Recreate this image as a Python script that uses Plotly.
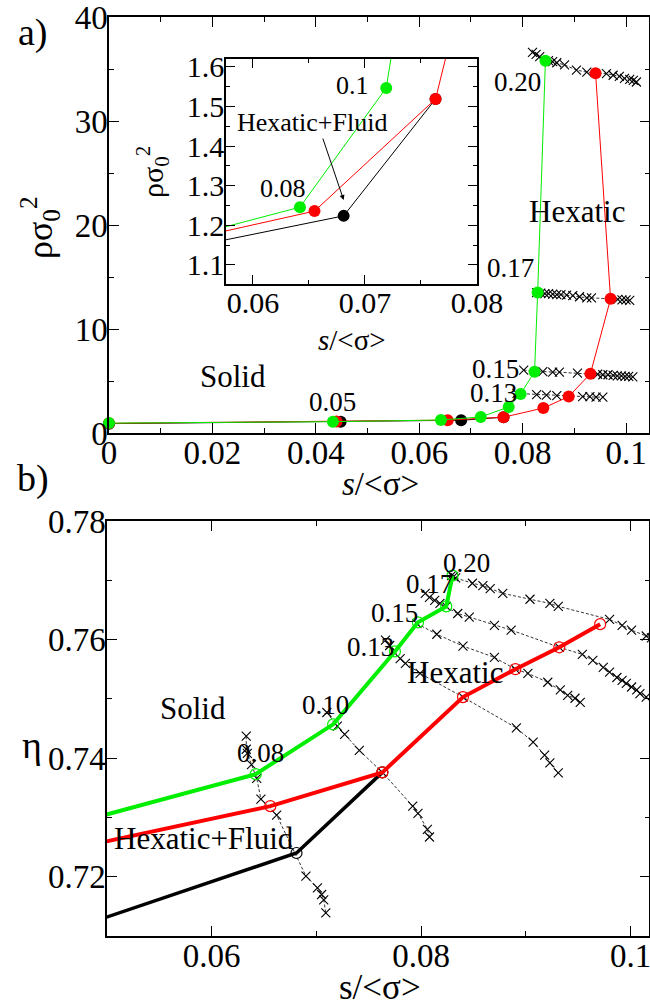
import plotly.graph_objects as go

FONT = "Liberation Serif, Times New Roman, serif"
GREEN = "#00ee00"
RED = "#ff0000"
BLACK = "#000000"

# ---------------- panel a: density vs polydispersity ----------------
green_a_x = [0.0, 0.0433, 0.0642, 0.0719, 0.0773, 0.0796, 0.0823, 0.0829, 0.0844]
green_a_y = [0.95, 1.09, 1.246, 1.547, 2.5, 3.75, 5.9, 13.5, 35.8]
red_a_x = [0.0, 0.0440, 0.0655, 0.0763, 0.0840, 0.0889, 0.0931, 0.0970, 0.0941]
red_a_y = [0.93, 1.10, 1.236, 1.519, 2.4, 3.5, 5.7, 12.9, 34.6]
black_a_x = [0.0, 0.0448, 0.0681, 0.0763]
black_a_y = [0.90, 1.09, 1.224, 1.519]

# isobars (x markers, dashed)
p20a_x = [0.0819, 0.0826, 0.0833, 0.0850, 0.0858, 0.0866, 0.0881, 0.0904, 0.0924,
          0.0962, 0.0975, 0.0987, 0.0997, 0.1007, 0.1014, 0.1020]
p20a_y = [36.6, 36.4, 36.2, 35.8, 35.7, 35.6, 35.4, 34.9, 34.7,
          34.55, 34.4, 34.3, 34.1, 34.0, 33.9, 33.75]
p17a_x = [0.0827, 0.0835, 0.0843, 0.0850, 0.0858, 0.0866, 0.0874, 0.0885, 0.0897,
          0.0910, 0.0924, 0.0933, 0.0984, 0.0992, 0.1000, 0.1007]
p17a_y = [13.5, 13.45, 13.4, 13.4, 13.35, 13.3, 13.3, 13.25, 13.2,
          13.1, 13.0, 13.0, 12.85, 12.8, 12.8, 12.75]
p15a_x = [0.0802, 0.0839, 0.0858, 0.0871, 0.0906, 0.0945, 0.0955, 0.0965, 0.0975,
          0.0983, 0.0991, 0.0998, 0.1005, 0.1013]
p15a_y = [6.05, 5.9, 5.85, 5.85, 5.75, 5.65, 5.6, 5.6, 5.55,
          5.5, 5.5, 5.45, 5.45, 5.4]
p13a_x = [0.0789, 0.0827, 0.0846, 0.0866, 0.0916, 0.0930, 0.0942, 0.0955]
p13a_y = [3.8, 3.7, 3.65, 3.6, 3.5, 3.5, 3.45, 3.45]

# ---------------- panel b: packing fraction vs polydispersity ----------------
green_b_x = [0.0433, 0.0642, 0.0716, 0.0775, 0.0797, 0.0824, 0.0830]
green_b_y = [0.7273, 0.7373, 0.7457, 0.7580, 0.7629, 0.7656, 0.7708]
red_b_x = [0.0440, 0.0656, 0.0763, 0.0840, 0.0890, 0.0932, 0.0971]
red_b_y = [0.7237, 0.7319, 0.7376, 0.7503, 0.7550, 0.7587, 0.7626]
black_b_x = [0.0448, 0.0681, 0.0763]
black_b_y = [0.7101, 0.7240, 0.7376]

p08b_x = [0.0633, 0.0633, 0.0634, 0.0638, 0.0643, 0.0647, 0.0662, 0.0690, 0.0701,
          0.0705, 0.0707, 0.0709]
p08b_y = [0.7437, 0.7415, 0.7408, 0.7389, 0.7366, 0.7331, 0.7304, 0.7201, 0.7181,
          0.7170, 0.7161, 0.7139]
p10b_x = [0.0710, 0.0720, 0.0727, 0.0741, 0.0763, 0.0792, 0.0797, 0.0806, 0.0808]
p10b_y = [0.7477, 0.7454, 0.7440, 0.7413, 0.7376, 0.7319, 0.7307, 0.7280, 0.7267]
p13b_x = [0.0766, 0.0770, 0.0780, 0.0785, 0.0799, 0.0840, 0.0891, 0.0907, 0.0918,
          0.0923, 0.0931]
p13b_y = [0.7599, 0.7590, 0.7568, 0.7560, 0.7543, 0.7503, 0.7451, 0.7427, 0.7405,
          0.7392, 0.7375]
p15b_x = [0.0796, 0.0815, 0.0840, 0.0870, 0.0890, 0.0902, 0.0921, 0.0933, 0.0940,
          0.0947, 0.0952]
p15b_y = [0.7627, 0.7609, 0.7589, 0.7570, 0.7550, 0.7543, 0.7528, 0.7515, 0.7506,
          0.7501, 0.7494]
p17b_x = [0.0804, 0.0808, 0.0813, 0.0818, 0.0824, 0.0835, 0.0846, 0.0870, 0.0886,
          0.0932, 0.0954, 0.0964, 0.0974, 0.0980, 0.0987, 0.0992, 0.0996, 0.1001,
          0.1006, 0.1009, 0.1015]
p17b_y = [0.7678, 0.7671, 0.7666, 0.7661, 0.7656, 0.7644, 0.7638, 0.7624, 0.7616,
          0.7587, 0.7575, 0.7565, 0.7553, 0.7545, 0.7536, 0.7531, 0.7526, 0.7520,
          0.7515, 0.7509, 0.7503]
p20b_x = [0.0829, 0.0831, 0.0833, 0.0849, 0.0859, 0.0866, 0.0878, 0.0904, 0.0923,
          0.0931, 0.0980, 0.0992, 0.1001, 0.1015, 0.1020]
p20b_y = [0.7708, 0.7706, 0.7704, 0.7695, 0.7691, 0.7686, 0.7678, 0.7668, 0.7661,
          0.7656, 0.7634, 0.7624, 0.7616, 0.7606, 0.7603]

# tick labels
xa_ticks = [0, 0.02, 0.04, 0.06, 0.08, 0.1]
xa_text = ["0", "0.02", "0.04", "0.06", "0.08", "0.1"]
ya_ticks = [0, 10, 20, 30, 40]
ya_text = ["0", "10", "20", "30", "40"]
xi_ticks = [0.06, 0.07, 0.08]
xi_text = ["0.06", "0.07", "0.08"]
yi_ticks = [1.1, 1.2, 1.3, 1.4, 1.5, 1.6]
yi_text = ["1.1", "1.2", "1.3", "1.4", "1.5", "1.6"]
xb_ticks = [0.06, 0.08, 0.1]
xb_text = ["0.06", "0.08", "0.1"]
yb_ticks = [0.72, 0.74, 0.76, 0.78]
yb_text = ["0.72", "0.74", "0.76", "0.78"]

fig = go.Figure()


def isobar(x, y, xa, ya):
    fig.add_trace(go.Scatter(
        x=x, y=y, xaxis=xa, yaxis=ya, mode="lines+markers",
        line=dict(color=BLACK, width=0.8, dash="3px,2px"),
        marker=dict(symbol="x-thin-open", size=9, line=dict(color=BLACK, width=1.1)),
        showlegend=False, hoverinfo="skip"))


# panel a
for px, py in [(p20a_x, p20a_y), (p17a_x, p17a_y), (p15a_x, p15a_y), (p13a_x, p13a_y)]:
    isobar(px, py, "x", "y")

for (xs, ys, c) in [(black_a_x, black_a_y, BLACK), (red_a_x, red_a_y, RED),
                    (green_a_x, green_a_y, GREEN)]:
    for xa, ya in [("x", "y"), ("x2", "y2")]:
        fig.add_trace(go.Scatter(
            x=xs, y=ys, xaxis=xa, yaxis=ya, mode="lines+markers",
            line=dict(color=c, width=1),
            marker=dict(symbol="circle", size=12, color=c),
            cliponaxis=(xa == "x2"), showlegend=False))

# panel b
for px, py in [(p08b_x, p08b_y), (p10b_x, p10b_y), (p13b_x, p13b_y),
               (p15b_x, p15b_y), (p17b_x, p17b_y), (p20b_x, p20b_y)]:
    isobar(px, py, "x3", "y3")

for (xs, ys, c, w) in [(black_b_x, black_b_y, BLACK, 3.5), (green_b_x, green_b_y, GREEN, 4),
                       (red_b_x, red_b_y, RED, 4)]:
    fig.add_trace(go.Scatter(
        x=xs, y=ys, xaxis="x3", yaxis="y3", mode="lines+markers",
        line=dict(color=c, width=w),
        marker=dict(symbol="circle-open", size=11, color=c, line=dict(color=c, width=1.2)),
        showlegend=False))


def ax(rng, dom, anchor, tv, tt, mdt, fs, tlen=10, standoff=-10):
    return dict(range=rng, domain=dom, anchor=anchor, tickvals=tv, ticktext=tt,
                automargin=False, ticklabeloverflow="allow",
                showline=True, linecolor="black", linewidth=1.5, mirror="allticks",
                ticks="inside", ticklen=tlen, tickwidth=1.2, tickcolor="black",
                minor=dict(ticks="inside", ticklen=tlen // 2, tickwidth=1.2,
                           tickcolor="black", dtick=mdt, tick0=0),
                showgrid=False, zeroline=False, ticklabelstandoff=standoff,
                tickfont=dict(family=FONT, size=fs, color="black"))


W, H = 650, 1007


def dx(p):
    return p / W


def dy(p):
    return 1 - p / H


fig.update_layout(
    template="none",
    width=W, height=H, margin=dict(l=0, r=0, t=0, b=0, pad=0, autoexpand=False),
    paper_bgcolor="white", plot_bgcolor="white",
    xaxis=ax([0, 0.1045], [dx(109), 0.999], "y", xa_ticks, xa_text, 0.01, 33),
    yaxis=ax([0, 40], [dy(433), dy(17)], "x", ya_ticks, ya_text, 5, 33, standoff=-7),
    xaxis2=ax([0.0576, 0.08], [dx(226), dx(477)], "y2", xi_ticks, xi_text, 0.005, 30, 9,
              standoff=-9),
    yaxis2=ax([1.052, 1.62], [dy(284), dy(59)], "x2", yi_ticks, yi_text, 0.05, 30, 9,
              standoff=-6),
    xaxis3=ax([0.05, 0.1018], [dx(107), 0.999], "y3", xb_ticks, xb_text, 0.01, 33),
    yaxis3=ax([0.71, 0.78], [dy(936), dy(521)], "x3", yb_ticks, yb_text, 0.01, 33,
              standoff=-7),
)

ann = []


def txt(t, x, y, xr, yr, size, angle=0):
    ann.append(dict(text=t, x=x, y=y, xref=xr, yref=yr, showarrow=False,
                    textangle=angle, xanchor="center", yanchor="middle",
                    font=dict(family=FONT, size=size, color="black")))


# panel letters and axis titles (paper coordinates)
txt("a)", dx(33), dy(32), "paper", "paper", 38)
txt("b)", dx(33), dy(479), "paper", "paper", 38)
txt("ρσ<sub>0</sub><sup>2</sup>", dx(40), dy(228), "paper", "paper", 36, -90)
txt("<i>s</i>/<σ>", dx(380), dy(484), "paper", "paper", 33)
txt("ρσ<sub>0</sub><sup>2</sup>", dx(153), dy(172), "paper", "paper", 30, -90)
txt("<i>s</i>/<σ>", dx(352), dy(340), "paper", "paper", 29)
txt("η", dx(32), dy(745), "paper", "paper", 38)
txt("s/<σ>", dx(380), dy(987), "paper", "paper", 35)

# panel a labels
txt("Solid", 0.024, 5.4, "x", "y", 31)
txt("Hexatic", 0.0906, 21.3, "x", "y", 31)
txt("0.05", 0.0433, 3.0, "x", "y", 27)
txt("0.13", 0.0744, 3.85, "x", "y", 27)
txt("0.15", 0.0748, 6.15, "x", "y", 27)
txt("0.17", 0.0777, 15.9, "x", "y", 27)
txt("0.20", 0.0790, 33.75, "x", "y", 27)

# inset labels
txt("0.1", 0.0689, 1.554, "x2", "y2", 26)
txt("0.08", 0.0627, 1.294, "x2", "y2", 26)
txt("Hexatic+Fluid", 0.0653, 1.46, "x2", "y2", 26)
ann.append(dict(x=0.0681, y=1.264, ax=0.0662, ay=1.423, xref="x2", yref="y2",
                axref="x2", ayref="y2", text="", showarrow=True, arrowhead=2,
                arrowsize=1, arrowwidth=1, arrowcolor="black"))

# panel b labels
txt("Solid", 0.0582, 0.7484, "x3", "y3", 31)
txt("Hexatic", 0.0832, 0.7545, "x3", "y3", 31)
txt("Hexatic+Fluid", 0.0593, 0.7265, "x3", "y3", 31)
txt("0.08", 0.0647, 0.7408, "x3", "y3", 27)
txt("0.10", 0.0709, 0.7489, "x3", "y3", 27)
txt("0.13", 0.0752, 0.7587, "x3", "y3", 27)
txt("0.15", 0.0775, 0.7644, "x3", "y3", 27)
txt("0.17", 0.0808, 0.7693, "x3", "y3", 27)
txt("0.20", 0.0843, 0.7730, "x3", "y3", 27)

fig.update_layout(annotations=ann)
fig.write_html("out.html")
